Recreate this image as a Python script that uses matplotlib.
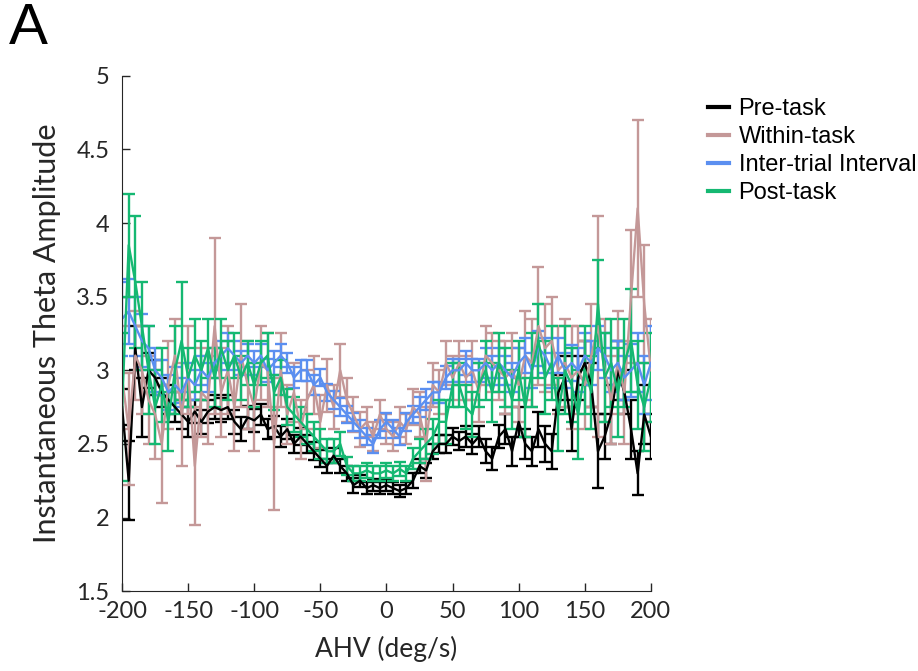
import numpy as np
import matplotlib
matplotlib.use("Agg")
import matplotlib.pyplot as plt

plt.rcParams["axes.unicode_minus"] = False
plt.rcParams["font.family"] = ["Lato", "DejaVu Sans"]

# AHV bins (deg/s)
ahv = np.arange(-200, 201, 5)

# Pre-task
pre_mean = [2.75, 2.25, 3.15, 2.75, 3.0, 2.95, 2.85, 2.8, 2.75, 2.7,
            2.65, 2.72, 2.65, 2.72, 2.75, 2.73, 2.75, 2.65, 2.6, 2.68,
            2.66, 2.7, 2.6, 2.62, 2.55, 2.6, 2.5, 2.55, 2.5, 2.45,
            2.4, 2.35, 2.42, 2.35, 2.3, 2.22, 2.25, 2.2, 2.22, 2.2,
            2.22, 2.2, 2.18, 2.2, 2.25, 2.35, 2.32, 2.45, 2.5, 2.5,
            2.55, 2.52, 2.55, 2.5, 2.55, 2.45, 2.4, 2.55, 2.6, 2.45,
            2.65, 2.5, 2.45, 2.6, 2.5, 2.45, 2.85, 2.95, 2.6, 2.95,
            3.05, 2.9, 2.45, 2.55, 2.7, 3.0, 2.85, 2.6, 2.3, 2.7, 2.55]
pre_err = [0.12, 0.27, 0.15, 0.2, 0.12, 0.12, 0.1, 0.1, 0.1, 0.1,
           0.1, 0.08, 0.08, 0.08, 0.08, 0.08, 0.08, 0.08, 0.08, 0.08,
           0.08, 0.07, 0.07, 0.07, 0.07, 0.07, 0.06, 0.06, 0.06, 0.06,
           0.06, 0.05, 0.05, 0.05, 0.05, 0.05, 0.04, 0.04, 0.04, 0.04,
           0.04, 0.04, 0.04, 0.04, 0.05, 0.05, 0.05, 0.05, 0.06, 0.06,
           0.06, 0.06, 0.07, 0.07, 0.07, 0.08, 0.08, 0.08, 0.1, 0.1,
           0.1, 0.1, 0.1, 0.12, 0.12, 0.12, 0.12, 0.15, 0.15, 0.15,
           0.15, 0.15, 0.25, 0.15, 0.2, 0.2, 0.15, 0.2, 0.15, 0.2, 0.15]

# Within-task
within_mean = [2.95, 2.6, 3.1, 3.0, 2.8, 2.7, 2.5, 2.9, 3.1, 2.7,
               3.0, 2.35, 2.85, 2.8, 3.3, 2.85, 3.0, 2.75, 3.1, 2.9,
               2.75, 3.05, 3.0, 2.5, 3.0, 2.7, 2.85, 2.6, 2.8, 2.9,
               2.65, 2.9, 2.75, 3.0, 2.8, 2.7, 2.6, 2.65, 2.55, 2.7,
               2.6, 2.55, 2.65, 2.6, 2.75, 2.7, 2.5, 2.9, 2.85, 3.05,
               2.95, 3.05, 2.95, 3.0, 2.85, 3.1, 3.05, 3.0, 2.95, 3.0,
               2.9, 3.1, 3.05, 3.3, 3.15, 3.2, 3.0, 3.05, 2.95, 3.0,
               2.9, 3.1, 3.3, 3.0, 2.8, 3.05, 2.85, 3.5, 4.1, 3.45, 3.0]
within_err = [0.35, 0.38, 0.3, 0.3, 0.3, 0.3, 0.4, 0.3, 0.25, 0.35,
              0.3, 0.4, 0.3, 0.3, 0.6, 0.3, 0.3, 0.3, 0.35, 0.3,
              0.3, 0.25, 0.25, 0.45, 0.25, 0.2, 0.2, 0.2, 0.2, 0.2,
              0.18, 0.18, 0.15, 0.18, 0.15, 0.12, 0.12, 0.1, 0.1, 0.1,
              0.1, 0.1, 0.1, 0.1, 0.12, 0.15, 0.25, 0.15, 0.15, 0.15,
              0.15, 0.15, 0.15, 0.2, 0.2, 0.2, 0.2, 0.2, 0.25, 0.25,
              0.25, 0.3, 0.3, 0.4, 0.3, 0.3, 0.3, 0.3, 0.35, 0.3,
              0.3, 0.35, 0.75, 0.35, 0.3, 0.35, 0.35, 0.45, 0.6, 0.4, 0.35]

# Inter-trial interval
iti_mean = [3.35, 3.4, 3.3, 3.2, 3.15, 3.0, 2.95, 2.85, 2.9, 2.85,
            2.95, 2.9, 3.0, 2.95, 3.05, 3.1, 3.15, 3.1, 3.05, 3.1,
            3.05, 3.1, 3.0, 3.05, 3.1, 3.05, 2.95, 3.0, 3.0, 2.9,
            2.95, 2.85, 2.8, 2.75, 2.7, 2.65, 2.6, 2.55, 2.5, 2.6,
            2.65, 2.6, 2.55, 2.65, 2.7, 2.75, 2.8, 2.85, 2.85, 2.95,
            3.0, 3.0, 3.05, 3.0, 3.0, 3.05, 3.0, 3.05, 3.0, 2.95,
            3.05, 3.1, 3.0, 3.15, 3.1, 3.0, 3.1, 3.0, 3.05, 3.0,
            3.1, 3.05, 3.15, 3.1, 3.0, 3.05, 2.95, 3.0, 3.05, 2.9, 3.05]
iti_err = [0.25, 0.22, 0.2, 0.18, 0.15, 0.15, 0.12, 0.12, 0.12, 0.1,
           0.1, 0.1, 0.1, 0.1, 0.1, 0.1, 0.1, 0.1, 0.08, 0.08,
           0.08, 0.08, 0.08, 0.08, 0.08, 0.07, 0.07, 0.07, 0.07, 0.07,
           0.06, 0.06, 0.06, 0.06, 0.06, 0.06, 0.06, 0.06, 0.06, 0.06,
           0.06, 0.06, 0.06, 0.06, 0.06, 0.07, 0.07, 0.07, 0.07, 0.08,
           0.08, 0.08, 0.08, 0.08, 0.08, 0.1, 0.1, 0.1, 0.1, 0.1,
           0.1, 0.12, 0.12, 0.12, 0.12, 0.12, 0.12, 0.12, 0.12, 0.15,
           0.15, 0.15, 0.15, 0.15, 0.15, 0.15, 0.15, 0.18, 0.2, 0.2, 0.25]

# Post-task
post_mean = [2.75, 3.85, 3.6, 3.3, 3.0, 2.75, 2.9, 2.65, 3.0, 3.2,
             2.95, 3.1, 3.0, 3.15, 2.95, 3.15, 3.0, 3.1, 2.95, 3.05,
             2.9, 3.05, 3.1, 2.85, 2.95, 2.75, 2.7, 2.65, 2.6, 2.55,
             2.5, 2.45, 2.45, 2.5, 2.35, 2.3, 2.3, 2.32, 2.3, 2.3,
             2.32, 2.3, 2.33, 2.3, 2.4, 2.45, 2.5, 2.55, 2.65, 2.65,
             2.9, 2.9, 2.75, 2.7, 2.9, 3.0, 2.85, 3.05, 2.95, 2.8,
             3.0, 2.75, 3.0, 3.2, 2.95, 3.05, 2.7, 3.0, 2.9, 2.7,
             3.0, 2.85, 3.45, 2.95, 3.05, 2.85, 3.05, 3.2, 2.9, 2.75, 2.95]
post_err = [0.5, 0.35, 0.45, 0.3, 0.3, 0.25, 0.25, 0.2, 0.3, 0.4,
            0.2, 0.25, 0.2, 0.2, 0.2, 0.2, 0.2, 0.15, 0.15, 0.15,
            0.15, 0.15, 0.15, 0.12, 0.12, 0.12, 0.12, 0.1, 0.1, 0.1,
            0.1, 0.08, 0.08, 0.08, 0.06, 0.05, 0.05, 0.05, 0.05, 0.05,
            0.05, 0.05, 0.05, 0.05, 0.07, 0.08, 0.1, 0.12, 0.15, 0.15,
            0.15, 0.15, 0.15, 0.15, 0.15, 0.2, 0.2, 0.2, 0.2, 0.2,
            0.2, 0.2, 0.25, 0.25, 0.25, 0.25, 0.25, 0.3, 0.25, 0.3,
            0.3, 0.25, 0.3, 0.3, 0.3, 0.3, 0.3, 0.35, 0.3, 0.3, 0.3]

labels = ["Pre-task", "Within-task", "Inter-trial Interval", "Post-task"]
colors = ["#000000", "#c49898", "#5b8ff0", "#15b872"]

fig = plt.figure(figsize=(9.18, 6.71), dpi=100)
ax = fig.add_axes([0.133, 0.119, 0.576, 0.768])

series = [(pre_mean, pre_err), (within_mean, within_err),
          (iti_mean, iti_err), (post_mean, post_err)]
for (m, e), lab, c in zip(series, labels, colors):
    ax.errorbar(ahv, m, yerr=e, color=c, lw=1.7, elinewidth=1.7,
                capsize=4, capthick=1.7, label=lab)

ax.set_xlim(-200, 200)
ax.set_ylim(1.5, 5)
ax.set_xticks(np.arange(-200, 201, 50))
ax.set_yticks([1.5, 2, 2.5, 3, 3.5, 4, 4.5, 5])
ax.set_yticklabels(["1.5", "2", "2.5", "3", "3.5", "4", "4.5", "5"])
ax.tick_params(direction="in", length=6, width=1, labelsize=17, colors="#262626")
ax.tick_params(axis="y", pad=9)
ax.tick_params(axis="x", pad=7)
for s in ["top", "right"]:
    ax.spines[s].set_visible(False)
for s in ["left", "bottom"]:
    ax.spines[s].set_color("#262626")

ax.set_xlabel("AHV (deg/s)", fontsize=19, color="#262626", labelpad=10)
ax.set_ylabel("Instantaneous Theta Amplitude", fontsize=22, color="#262626", labelpad=11)

handles = [plt.Line2D([], [], color=c, lw=3) for c in colors]
fig.legend(handles, labels, loc="upper left", bbox_to_anchor=(0.748, 0.885),
           frameon=False, handlelength=0.9, handletextpad=0.4,
           labelspacing=0.25, prop={"family": "Liberation Sans", "size": 17})

fig.text(0.01, 0.935, "A", fontsize=42, family="Liberation Sans")

fig.savefig("out.png", dpi=100)
